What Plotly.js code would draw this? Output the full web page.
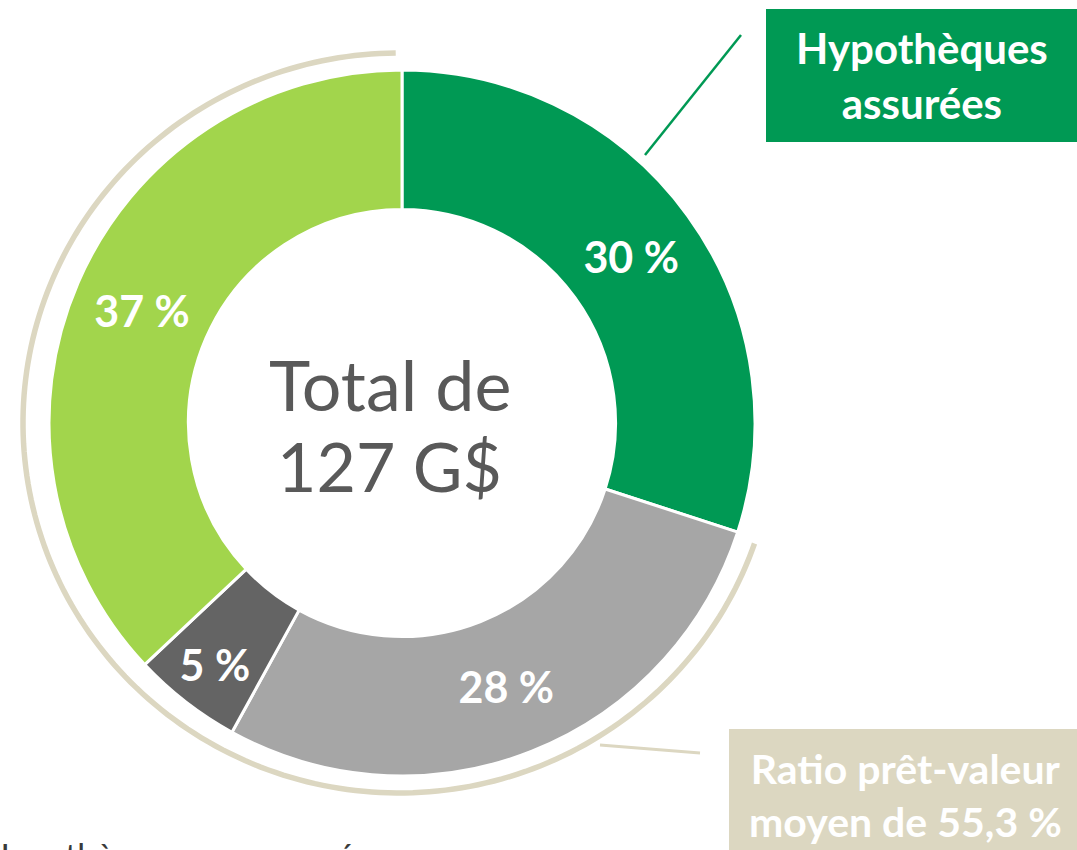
<!DOCTYPE html>
<html>
<head>
<meta charset="utf-8">
<script src="https://cdn.plot.ly/plotly-3.0.1.min.js"></script>
<style>
  html, body { margin: 0; padding: 0; background: #ffffff; overflow: hidden; }
  #chart { width: 1077px; height: 850px; }
</style>
</head>
<body>
<div id="chart"></div>
<script>
// ---- Data ----
const categories = ["Hypothèques assurées", "Non assurées – A", "Non assurées – B", "Non assurées – C"];
const shares = [30, 28, 5, 37];
const sliceLabels = shares.map(v => v + " %");
const centerLines = ["Total de", "127 G$"];
const insuredLabel = "Hypothèques<br>assurées";
const ltvLabel = "Ratio prêt-valeur<br>moyen de 55,3 %";
const bottomLabel = "Hypothèques non assurées";

// ---- Styling ----
const W = 1077, H = 850;
const colors = ["#009954", "#A6A6A6", "#646464", "#A2D54C"];
const green = "#009954", beige = "#DCD7C1";
const px = x => x / W;
const py = y => 1 - y / H;

// donut geometry (pixels)
const cx = 402, cy = 423, R = 353;

// beige arc (polyline in paper coordinates)
function arcPath(x0, y0, rx, ry, a0, a1, n) {
  let d = "";
  for (let i = 0; i <= n; i++) {
    const a = (a0 + (a1 - a0) * i / n) * Math.PI / 180;
    const x = x0 + rx * Math.sin(a);
    const y = y0 - ry * Math.cos(a);
    d += (i === 0 ? "M" : " L") + px(x).toFixed(5) + "," + py(y).toFixed(5);
  }
  return d;
}

const trace = {
  type: "pie",
  values: shares,
  labels: categories,
  text: sliceLabels,
  textinfo: "text",
  textposition: "inside",
  insidetextorientation: "horizontal",
  sort: false,
  direction: "clockwise",
  rotation: 0,
  hole: 0.605,
  marker: { colors: colors, line: { color: "#ffffff", width: 3 } },
  textfont: { family: "Lato, 'Open Sans', sans-serif", size: 43, color: "#ffffff", weight: 700 },
  hoverinfo: "none",
  showlegend: false,
  domain: { x: [px(cx - R), px(cx + R)], y: [py(cy + R), py(cy - R)] }
};

const layout = {
  width: W, height: H,
  margin: { l: 0, r: 0, t: 0, b: 0 },
  paper_bgcolor: "#ffffff",
  showlegend: false,
  uniformtext: { minsize: 43, mode: "show" },
  shapes: [
    { type: "path", xref: "paper", yref: "paper",
      path: arcPath(399, 423, 376, 370, 109, 359.5, 200),
      line: { color: beige, width: 5.5 }, layer: "below" },
    { type: "line", xref: "paper", yref: "paper",
      x0: px(645), y0: py(155), x1: px(741), y1: py(35),
      line: { color: green, width: 2.5 } },
    { type: "line", xref: "paper", yref: "paper",
      x0: px(600), y0: py(745), x1: px(700), y1: py(753),
      line: { color: beige, width: 3 } },
    { type: "rect", xref: "paper", yref: "paper",
      x0: px(766), y0: py(142), x1: px(1085), y1: py(9),
      fillcolor: green, line: { width: 0 } },
    { type: "rect", xref: "paper", yref: "paper",
      x0: px(729), y0: py(870), x1: px(1085), y1: py(729),
      fillcolor: beige, line: { width: 0 } }
  ],
  annotations: [
    { xref: "paper", yref: "paper", x: px(390), y: py(384), xanchor: "center", yanchor: "middle",
      text: centerLines[0], showarrow: false,
      font: { family: "Lato, sans-serif", size: 70, color: "#595959" } },
    { xref: "paper", yref: "paper", x: px(390), y: py(465), xanchor: "center", yanchor: "middle",
      text: centerLines[1], showarrow: false,
      font: { family: "Lato, sans-serif", size: 68, color: "#595959" } },
    { xref: "paper", yref: "paper", x: px(922), y: py(76), xanchor: "center", yanchor: "middle",
      text: insuredLabel, showarrow: false,
      font: { family: "Lato, sans-serif", size: 42, color: "#ffffff", weight: 700 } },
    { xref: "paper", yref: "paper", x: px(905), y: py(795), xanchor: "center", yanchor: "middle",
      text: ltvLabel, showarrow: false,
      font: { family: "Lato, sans-serif", size: 41, color: "#ffffff", weight: 700 } },
    { xref: "paper", yref: "paper", x: px(-18), y: py(833), xanchor: "left", yanchor: "top",
      text: bottomLabel, showarrow: false,
      font: { family: "Lato, sans-serif", size: 34, color: "#3A3A3A" } }
  ]
};

Plotly.newPlot("chart", [trace], layout, { displayModeBar: false, staticPlot: true });
</script>
</body>
</html>
